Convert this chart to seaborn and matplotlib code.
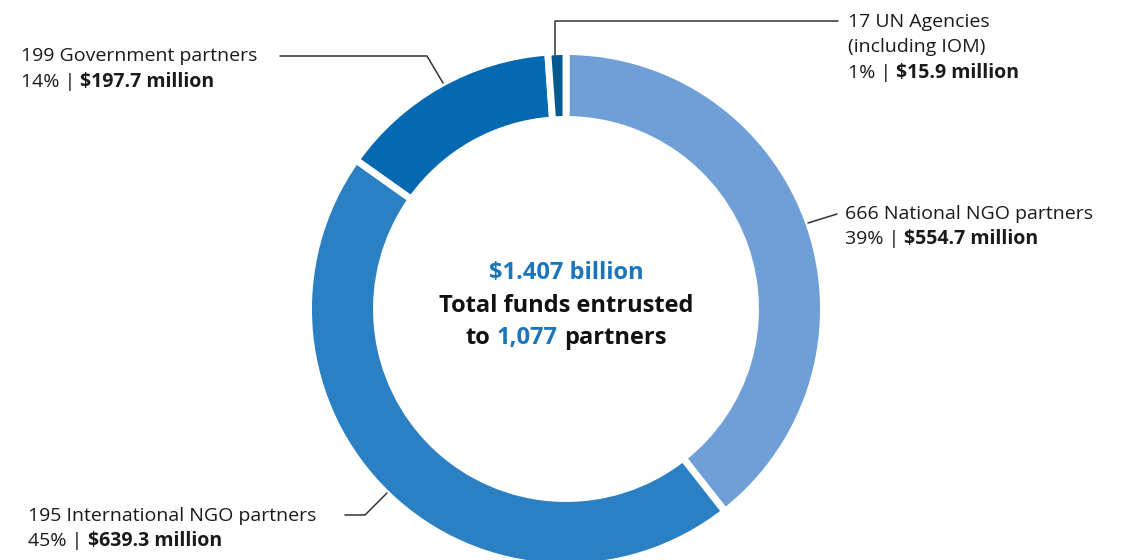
import matplotlib
matplotlib.use("Agg")
import matplotlib.pyplot as plt
import seaborn as sns

# ---- data ----
categories = ["National NGO partners", "International NGO partners",
              "Government partners", "UN Agencies"]
counts = [666, 195, 199, 17]
funds = [554.7, 639.3, 197.7, 15.9]          # $ million
pcts = [39, 45, 14, 1]
total_funds = "$1.407 billion"
total_partners = "1,077"

colors = ["#6E9FD6", "#2B80C3", "#0569B1", "#04598F"]
BLUE = "#1A75BC"
DARK = "#1A1A1A"

sns.set_theme(style="white")
plt.rcParams["font.family"] = ["Open Sans", "DejaVu Sans"]

W, H = 1131, 560
fig = plt.figure(figsize=(W / 100, H / 100), dpi=100)
ax = fig.add_axes([0, 0, 1, 1])

cx, cy = 566, H - 309
ax.pie(funds, colors=colors, startangle=90, counterclock=False,
       radius=257.5, center=(cx, cy),
       wedgeprops=dict(width=68, edgecolor="white", linewidth=5))
ax.set_xlim(0, W)
ax.set_ylim(0, H)
ax.set_aspect("equal")
ax.axis("off")

renderer = fig.canvas.get_renderer()


def width_of(s, size, weight):
    t = ax.text(0, 0, s, fontsize=size, fontweight=weight)
    w = t.get_window_extent(renderer).width
    t.remove()
    return w


def rich(x, y_img, parts, size, ha="left"):
    """parts: list of (text, weight, color); y_img in image pixel coords (center)."""
    sp = width_of("a a", size, "normal") - width_of("aa", size, "normal")
    widths = [width_of(s.strip(), size, wgt) for s, wgt, c in parts]
    gaps = [sp if s.endswith(" ") else 0 for s, wgt, c in parts]
    total = sum(widths) + sum(gaps[:-1])
    x0 = x - total / 2 if ha == "center" else x
    for (s, wgt, c), w, g in zip(parts, widths, gaps):
        ax.text(x0, H - y_img, s.strip(), fontsize=size, fontweight=wgt,
                color=c, ha="left", va="center")
        x0 += w + g


LS = 14
W1 = "normal"

# Government
rich(21, 56, [(f"{counts[2]} Government partners", W1, DARK)], LS)
rich(21, 82, [(f"{pcts[2]}% | ", W1, DARK),
              (f"${funds[2]} million", "bold", DARK)], LS)
ax.plot([280, 427, 443], [H - 56, H - 56, H - 83], color="#333333", lw=1.1)

# UN
rich(848, 22, [(f"{counts[3]} UN Agencies", W1, DARK)], LS)
rich(848, 47, [("(including IOM)", W1, DARK)], LS)
rich(848, 73, [(f"{pcts[3]}% | ", W1, DARK),
               (f"${funds[3]} million", "bold", DARK)], LS)
ax.plot([555, 555, 838], [H - 55, H - 21, H - 21], color="#333333", lw=1.1)

# National NGO
rich(845, 214, [(f"{counts[0]} National NGO partners", W1, DARK)], LS)
rich(845, 239, [(f"{pcts[0]}% | ", W1, DARK),
                (f"${funds[0]} million", "bold", DARK)], LS)
ax.plot([808, 837], [H - 223, H - 214], color="#333333", lw=1.1)

# International NGO
rich(28, 516, [(f"{counts[1]} International NGO partners", W1, DARK)], LS)
rich(28, 541, [(f"{pcts[1]}% | ", W1, DARK),
               (f"${funds[1]} million", "bold", DARK)], LS)
ax.plot([345, 365, 387], [H - 515, H - 515, H - 493], color="#333333", lw=1.1)

# Centre text
CS = 17
rich(cx, 273, [(total_funds, "bold", BLUE)], CS, ha="center")
rich(cx, 306, [("Total funds entrusted", "bold", "#111111")], CS, ha="center")
rich(cx, 338, [("to ", "bold", "#111111"), (total_partners + " ", "bold", BLUE),
               ("partners", "bold", "#111111")], CS, ha="center")

fig.savefig("out.png", dpi=100, facecolor="white")
